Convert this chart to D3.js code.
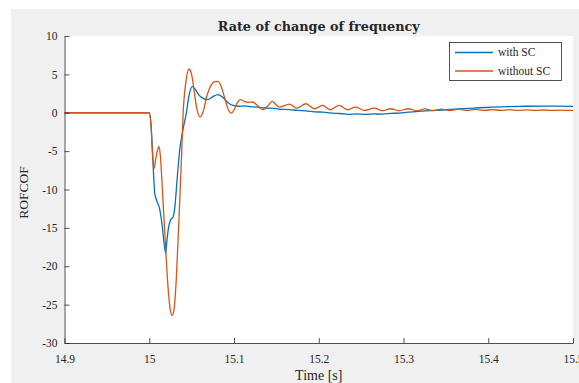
<!DOCTYPE html>
<html><head><meta charset="utf-8">
<script src="https://cdn.jsdelivr.net/npm/d3@7"></script>
<style>body{margin:0;background:#fff}svg{display:block}text{font-family:"Liberation Serif","Times New Roman",serif;fill:#262626}</style>
</head><body><svg id="c" width="579" height="383"></svg>
<script>
const xTicks = [14.9, 15, 15.1, 15.2, 15.3, 15.4, 15.5];
const yTicks = [10, 5, 0, -5, -10, -15, -20, -25, -30];
const seriesNames = ["with SC", "without SC"];
const seriesColors = ["#0072BD", "#D95319"];

const timeWith = [14.9, 15.0, 15.002, 15.004, 15.0065, 15.009, 15.012, 15.015, 15.0175, 15.0194, 15.021, 15.023, 15.025, 15.028, 15.030, 15.033, 15.036, 15.0398, 15.0438, 15.047, 15.0508, 15.054, 15.058, 15.063, 15.069, 15.075, 15.081, 15.087, 15.093, 15.0986, 15.105, 15.112, 15.12, 15.128, 15.136, 15.145, 15.155, 15.165, 15.175, 15.185, 15.195, 15.205, 15.215, 15.225, 15.235, 15.245, 15.255, 15.265, 15.275, 15.285, 15.295, 15.305, 15.315, 15.326, 15.346, 15.365, 15.385, 15.405, 15.424, 15.445, 15.463, 15.48, 15.5];
const valuesWith = [0, 0, -1.5, -5.5, -10.5, -11.5, -12.4, -14.5, -17, -18.3, -16.5, -14.8, -14.0, -13.6, -12.5, -8.5, -4.8, -2.2, 0, 2.3, 3.4, 3.1, 2.4, 1.9, 1.7, 2.1, 2.35, 2.0, 1.3, 0.95, 0.85, 0.9, 0.8, 0.72, 0.62, 0.6, 0.45, 0.42, 0.3, 0.25, 0.12, 0.08, -0.05, -0.1, -0.2, -0.15, -0.22, -0.15, -0.17, -0.08, -0.05, 0.08, 0.15, 0.25, 0.36, 0.5, 0.62, 0.72, 0.8, 0.85, 0.87, 0.86, 0.82];

const timeWithout = [14.9, 15.0, 15.002, 15.004, 15.0055, 15.008, 15.0115, 15.013, 15.016, 15.019, 15.022, 15.025, 15.027, 15.029, 15.032, 15.035, 15.038, 15.040, 15.043, 15.0468, 15.050, 15.053, 15.056, 15.060, 15.064, 15.068, 15.073, 15.077, 15.081, 15.085, 15.089, 15.093, 15.097, 15.101, 15.105, 15.108, 15.112, 15.116, 15.122, 15.128, 15.134, 15.140, 15.145, 15.1535, 15.1653, 15.1739, 15.1849, 15.1947, 15.2045, 15.2135, 15.2241, 15.2339, 15.2438, 15.2535, 15.2653, 15.2751, 15.2849, 15.2947, 15.3056, 15.3162, 15.3254, 15.335, 15.345, 15.355, 15.365, 15.375, 15.385, 15.395, 15.405, 15.415, 15.425, 15.435, 15.445, 15.455, 15.465, 15.475, 15.485, 15.495, 15.5];
const valuesWithout = [0, 0, -1.5, -5.5, -7.3, -5.8, -4.4, -5.5, -11, -17, -22.5, -25.8, -26.4, -25.8, -21.5, -14, -6, 0, 3.8, 5.7, 5.0, 2.8, 0.6, -0.55, 0.3, 2.2, 3.6, 4.05, 4.1, 3.4, 1.9, 0.5, -0.04, 0.6, 1.5, 1.7, 1.5, 1.35, 1.4, 0.9, 0.4, 0.9, 1.48, 0.74, 1.13, 0.6, 1.17, 0.52, 0.96, 0.39, 0.96, 0.39, 0.74, 0.3, 0.6, 0.26, 0.52, 0.26, 0.52, 0.26, 0.5, 0.28, 0.48, 0.3, 0.46, 0.3, 0.44, 0.3, 0.42, 0.3, 0.4, 0.3, 0.38, 0.3, 0.36, 0.3, 0.34, 0.3, 0.31];

const svg = d3.select("#c");
const L = 64.5, R = 573, T = 36, B = 343;
svg.append("rect").attr("x", 11).attr("y", 9).attr("width", 579 - 11).attr("height", 383 - 9).attr("fill", "#f0f0f0");
svg.append("rect").attr("x", L).attr("y", T).attr("width", R - L).attr("height", B - T).attr("fill", "#fff");

const x = d3.scaleLinear().domain([14.9, 15.5]).range([L, R]);
const y = d3.scaleLinear().domain([-30, 10]).range([B, T]);

svg.append("clipPath").attr("id", "pc").append("rect").attr("x", L).attr("y", T - 2).attr("width", R - L).attr("height", B - T + 2);

const line = d3.line().x(d => x(d[0])).y(d => y(d[1])).curve(d3.curveMonotoneX);
const series = [
  timeWith.map((t, i) => [t, valuesWith[i]]),
  timeWithout.map((t, i) => [t, valuesWithout[i]])
];
const g = svg.append("g").attr("clip-path", "url(#pc)");
series.forEach((s, i) => {
  g.append("path").datum(s).attr("d", line).attr("fill", "none")
    .attr("stroke", seriesColors[i]).attr("stroke-width", 1.3).attr("stroke-linejoin", "round");
});

// axes
const xAxis = d3.axisBottom(x).tickValues(xTicks).tickSizeInner(-5).tickSizeOuter(0).tickPadding(11.5).tickFormat(d => d3.format("")(d));
const yAxis = d3.axisLeft(y).tickValues(yTicks).tickSizeInner(-5).tickSizeOuter(0).tickPadding(7).tickFormat(d => d3.format("")(d));
const gx = svg.append("g").attr("transform", `translate(0,${B})`).call(xAxis);
const gy = svg.append("g").attr("transform", `translate(${L},0)`).call(yAxis);
[gx, gy].forEach(a => {
  a.select(".domain").attr("stroke", "#262626").attr("stroke-width", 0.8);
  a.selectAll(".tick line").attr("stroke", "#262626").attr("stroke-width", 0.8);
  a.selectAll(".tick text").attr("font-size", 11.5).attr("fill", "#262626").style("font-family", "Liberation Serif");
});
gy.selectAll(".tick text").text(d => d < 0 ? "-" + Math.abs(d) : d);

svg.append("text").attr("x", (L + R) / 2).attr("y", 31).attr("text-anchor", "middle")
  .style("font-family", "'DejaVu Serif', serif").attr("font-size", 13).attr("font-weight", "bold")
  .attr("textLength", 202).attr("lengthAdjust", "spacingAndGlyphs").text("Rate of change of frequency");
svg.append("text").attr("x", (L + R) / 2).attr("y", 380).attr("text-anchor", "middle")
  .attr("font-size", 14).text("Time [s]");
svg.append("text").attr("transform", `translate(27.5,${(T + B) / 2 + 3}) rotate(-90)`).attr("text-anchor", "middle")
  .attr("font-size", 13.5).text("ROFCOF");

// legend
const lg = svg.append("g");
lg.append("rect").attr("x", 449.5).attr("y", 42.5).attr("width", 112).attr("height", 38)
  .attr("fill", "#fff").attr("stroke", "#262626").attr("stroke-width", 0.8);
seriesNames.forEach((n, i) => {
  const yy = 52.5 + i * 18.5;
  lg.append("line").attr("x1", 455).attr("x2", 493).attr("y1", yy).attr("y2", yy)
    .attr("stroke", seriesColors[i]).attr("stroke-width", 1.3);
  lg.append("text").attr("x", 498).attr("y", yy + 3.8).attr("font-size", 11.5).text(n);
});
</script></body></html>
